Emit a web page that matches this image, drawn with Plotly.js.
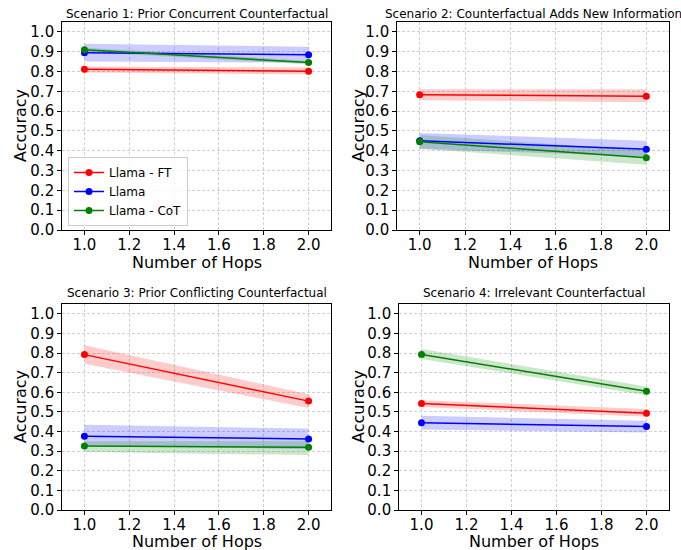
<!DOCTYPE html>
<html>
<head>
<meta charset="utf-8">
<script src="https://cdn.plot.ly/plotly-3.0.1.min.js"></script>
<style>html,body{margin:0;padding:0;background:#fff}#chart{width:681px;height:550px}</style>
</head>
<body>
<div id="chart"></div>
<script>
const hops = [1.0, 2.0];
const models = ["Llama - FT", "Llama", "Llama - CoT"];
const colors = ["#ff0000", "#0000ff", "#008000"];
const fills = ["rgba(255,0,0,0.2)", "rgba(0,0,255,0.2)", "rgba(0,128,0,0.2)"];
const scenarioTitles = [
  "Scenario 1: Prior Concurrent Counterfactual",
  "Scenario 2: Counterfactual Adds New Information",
  "Scenario 3: Prior Conflicting Counterfactual",
  "Scenario 4: Irrelevant Counterfactual"
];
const xTitle = "Number of Hops";
const yTitle = "Accuracy";
// mean accuracy per scenario, per model [FT, Llama, CoT]
const s1Mean = [[0.812, 0.802], [0.895, 0.885], [0.910, 0.845]];
const s1Low  = [[0.795, 0.785], [0.850, 0.845], [0.900, 0.835]];
const s1High = [[0.825, 0.820], [0.940, 0.925], [0.920, 0.855]];
const s2Mean = [[0.683, 0.675], [0.450, 0.408], [0.445, 0.365]];
const s2Low  = [[0.655, 0.645], [0.410, 0.370], [0.410, 0.330]];
const s2High = [[0.710, 0.710], [0.490, 0.450], [0.480, 0.400]];
const s3Mean = [[0.792, 0.555], [0.376, 0.362], [0.326, 0.320]];
const s3Low  = [[0.745, 0.520], [0.330, 0.310], [0.295, 0.280]];
const s3High = [[0.840, 0.590], [0.435, 0.415], [0.350, 0.350]];
const s4Mean = [[0.543, 0.493], [0.445, 0.425], [0.793, 0.605]];
const s4Low  = [[0.525, 0.475], [0.410, 0.395], [0.770, 0.585]];
const s4High = [[0.560, 0.515], [0.480, 0.455], [0.820, 0.630]];
const yTicks = [0,0.1,0.2,0.3,0.4,0.5,0.6,0.7,0.8,0.9,1.0];
const xTicks = [1.0,1.2,1.4,1.6,1.8,2.0];

const scen = [
  {m: s1Mean, lo: s1Low, hi: s1High},
  {m: s2Mean, lo: s2Low, hi: s2High},
  {m: s3Mean, lo: s3Low, hi: s3High},
  {m: s4Mean, lo: s4Low, hi: s4High}
];

const W = 681, H = 550;
const boxes = [
  {l: 62, r: 331, t: 22, b: 230, ytx: 20, xty: 262, tty: 14},
  {l: 397, r: 669, t: 22, b: 230, ytx: 358, xty: 262, tty: 14},
  {l: 62, r: 331, t: 304, b: 510, ytx: 20, xty: 541, tty: 293},
  {l: 399, r: 669, t: 304, b: 510, ytx: 358, xty: 541, tty: 293}
];

const FONT = "DejaVu Sans";
const traces = [];
const layout = {
  width: W, height: H,
  margin: {l: 0, r: 0, t: 0, b: 0},
  paper_bgcolor: "#fff", plot_bgcolor: "#fff",
  font: {family: FONT, color: "#000"},
  showlegend: true,
  legend: {
    x: 68 / W, y: 1 - 226 / H, xanchor: "left", yanchor: "bottom",
    bgcolor: "rgba(255,255,255,0.8)", bordercolor: "#cccccc", borderwidth: 1,
    font: {size: 12, family: FONT}, tracegroupgap: 0,
    itemwidth: 30
  },
  annotations: []
};

scen.forEach((s, i) => {
  const k = i + 1;
  const xa = "x" + (k === 1 ? "" : k), ya = "y" + (k === 1 ? "" : k);
  for (let j = 0; j < 3; j++) {
    traces.push({
      x: hops.concat(hops.slice().reverse()),
      y: s.lo[j].concat(s.hi[j].slice().reverse()),
      fill: "toself", fillcolor: fills[j], mode: "none", type: "scatter",
      showlegend: false, hoverinfo: "skip", xaxis: xa, yaxis: ya
    });
  }
  for (let j = 0; j < 3; j++) {
    traces.push({
      x: hops, y: s.m[j], type: "scatter", mode: "lines+markers",
      name: models[j], line: {color: colors[j], width: 1.5},
      marker: {color: colors[j], size: 7},
      showlegend: i === 0, xaxis: xa, yaxis: ya
    });
  }
  const b = boxes[i];
  const axCommon = {
    showline: true, linecolor: "#000", linewidth: 1.3, mirror: true,
    ticks: "outside", ticklen: 3.5, tickwidth: 1, tickcolor: "#000",
    showgrid: true, gridcolor: "#c4c4c4", gridwidth: 0.8, griddash: "3px,2px",
    zeroline: false, tickfont: {size: 15, family: FONT, color: "#000"}
  };
  layout["xaxis" + (k === 1 ? "" : k)] = Object.assign({}, axCommon, {
    domain: [b.l / W, b.r / W], anchor: ya, range: [0.9, 2.1],
    tickvals: xTicks, ticktext: xTicks.map(v => v.toFixed(1)),
    ticklabelstandoff: -3
  });
  layout["yaxis" + (k === 1 ? "" : k)] = Object.assign({}, axCommon, {
    domain: [1 - b.b / H, 1 - b.t / H], anchor: xa, range: [0, 1.05],
    tickvals: yTicks, ticktext: yTicks.map(v => v.toFixed(1))
  });
  layout.annotations.push({
    text: scenarioTitles[i], xref: "paper", yref: "paper",
    x: (b.l + b.r) / 2 / W, y: 1 - b.tty / H, xanchor: "center", yanchor: "middle",
    showarrow: false, font: {size: 12, family: FONT, color: "#000"}
  });
  layout.annotations.push({
    text: xTitle, xref: "paper", yref: "paper",
    x: (b.l + b.r) / 2 / W, y: 1 - b.xty / H, xanchor: "center", yanchor: "middle",
    showarrow: false, font: {size: 16, family: FONT, color: "#000"}
  });
  layout.annotations.push({
    text: yTitle, xref: "paper", yref: "paper", textangle: -90,
    x: b.ytx / W, y: 1 - (b.t + b.b) / 2 / H, xanchor: "center", yanchor: "middle",
    showarrow: false, font: {size: 16, family: FONT, color: "#000"}
  });
});

Plotly.newPlot("chart", traces, layout, {displayModeBar: false, staticPlot: true});
</script>
</body>
</html>
